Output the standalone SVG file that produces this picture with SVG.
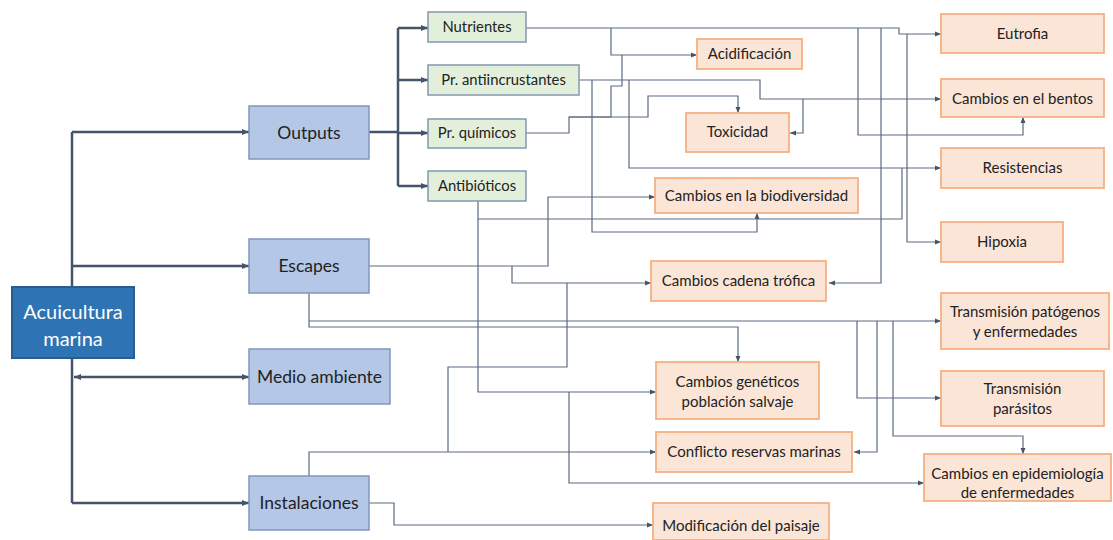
<svg xmlns="http://www.w3.org/2000/svg" width="1113" height="540" viewBox="0 0 1113 540">
<style>
text{font-family:Lato,"Liberation Sans",sans-serif;text-anchor:middle;fill:#222}
.main rect{fill:#2e74b5;stroke:#2a5c8e;stroke-width:2}
.main text{fill:#fff;font-size:20px}
.blue rect{fill:#b4c7e7;stroke:#7f96bd;stroke-width:1.5}
.blue text{font-size:17.5px}
.green rect{fill:#e2efda;stroke:#8497b0;stroke-width:1.5}
.green text{font-size:14.8px}
.orange rect{fill:#fbe5d6;stroke:#f4b183;stroke-width:1.8}
.orange text{font-size:15px}
.thick{fill:none;stroke:#44546a;stroke-width:2.5}
.thin{fill:none;stroke:#5b6b80;stroke-width:1.2}
</style>
<defs>
<marker id="a" markerUnits="userSpaceOnUse" markerWidth="8" markerHeight="7" refX="7" refY="3.5" orient="auto"><path d="M0,0.5 L7,3.5 L0,6.5 z" fill="#44546a"/></marker>
<marker id="as" markerUnits="userSpaceOnUse" markerWidth="8" markerHeight="7" refX="7" refY="3.5" orient="auto-start-reverse"><path d="M0,0.5 L7,3.5 L0,6.5 z" fill="#44546a"/></marker>
<marker id="t" markerUnits="userSpaceOnUse" markerWidth="7" markerHeight="6" refX="6" refY="3" orient="auto"><path d="M0,0.5 L6,3 L0,5.5 z" fill="#44546a"/></marker>
</defs>
<g id="connectors">
<path class="thick" d="M72,132 V503"/>
<path class="thick" d="M72,132 H249" marker-end="url(#a)"/>
<path class="thick" d="M72,266 H249" marker-end="url(#a)"/>
<path class="thick" d="M74,377 H249" marker-start="url(#as)" marker-end="url(#as)"/>
<path class="thick" d="M72,503 H249" marker-end="url(#a)"/>
<path class="thick" d="M369,132 H398"/>
<path class="thick" d="M398,28 V186"/>
<path class="thick" d="M398,28 H428" marker-end="url(#a)"/>
<path class="thick" d="M398,80 H428" marker-end="url(#a)"/>
<path class="thick" d="M398,133 H428" marker-end="url(#a)"/>
<path class="thick" d="M398,186 H428" marker-end="url(#a)"/>
<path class="thin" d="M526,28 H899 V34 H941" marker-end="url(#t)"/>
<path class="thin" d="M907,34 V242 H941" marker-end="url(#t)"/>
<path class="thin" d="M611,28 V55 H697" marker-end="url(#t)"/>
<path class="thin" d="M858,28 V135 H1023 V117" marker-end="url(#t)"/>
<path class="thin" d="M881,28 V283 H829" marker-end="url(#t)"/>
<path class="thin" d="M579,80 H760 V99 H941" marker-end="url(#t)"/>
<path class="thin" d="M803,99 V133 H790" marker-end="url(#t)"/>
<path class="thin" d="M592,80 V232 H757 V213" marker-end="url(#t)"/>
<path class="thin" d="M629,80 V168 H941" marker-end="url(#t)"/>
<path class="thin" d="M526,133 H569 V117 H648 V96 H738 V113" marker-end="url(#t)"/>
<path class="thin" d="M569,117 H611 V86 H622 V55"/>
<path class="thin" d="M478,201 V219 H902 V168"/>
<path class="thin" d="M478,219 V392 H656" marker-end="url(#t)"/>
<path class="thin" d="M569,392 V483 H924" marker-end="url(#t)"/>
<path class="thin" d="M369,266 H548 V197 H655" marker-end="url(#t)"/>
<path class="thin" d="M512,266 V283 H651" marker-end="url(#t)"/>
<path class="thin" d="M309,293 V327 H738 V362" marker-end="url(#t)"/>
<path class="thin" d="M309,321 H941" marker-end="url(#t)"/>
<path class="thin" d="M857,321 V398 H941" marker-end="url(#t)"/>
<path class="thin" d="M877,321 V452 H854" marker-end="url(#t)"/>
<path class="thin" d="M893,321 V436 H1023 V454" marker-end="url(#t)"/>
<path class="thin" d="M309,476 V452 H656" marker-end="url(#t)"/>
<path class="thin" d="M448,452 V367 H567 V283"/>
<path class="thin" d="M369,503 H394 V525 H653" marker-end="url(#t)"/>
</g>
<g id="acuicultura" class="main"><rect x="12" y="287" width="122" height="71"/><text x="73" y="319">Acuicultura</text><text x="73" y="346">marina</text></g>
<g id="outputs" class="blue"><rect x="249" y="106" width="120" height="53"/><text x="309" y="139">Outputs</text></g>
<g id="escapes" class="blue"><rect x="249" y="239" width="120" height="54"/><text x="309" y="272">Escapes</text></g>
<g id="medio" class="blue"><rect x="249" y="349" width="141" height="55"/><text x="319.5" y="383">Medio ambiente</text></g>
<g id="instalaciones" class="blue"><rect x="249" y="476" width="120" height="54"/><text x="309" y="509">Instalaciones</text></g>
<g id="nutrientes" class="green"><rect x="428" y="12" width="98" height="30"/><text x="477" y="32">Nutrientes</text></g>
<g id="antiincrustantes" class="green"><rect x="428" y="65" width="151" height="30"/><text x="503.5" y="85">Pr. antiincrustantes</text></g>
<g id="quimicos" class="green"><rect x="428" y="119" width="98" height="29"/><text x="477" y="138">Pr. químicos</text></g>
<g id="antibioticos" class="green"><rect x="428" y="171" width="98" height="30"/><text x="477" y="191">Antibióticos</text></g>
<g id="acidificacion" class="orange"><rect x="697" y="39" width="105" height="30"/><text x="749.5" y="59">Acidificación</text></g>
<g id="toxicidad" class="orange"><rect x="686" y="113" width="103" height="39"/><text x="737.5" y="137">Toxicidad</text></g>
<g id="biodiversidad" class="orange"><rect x="655" y="178" width="203" height="35"/><text x="756.5" y="201">Cambios en la biodiversidad</text></g>
<g id="cadena" class="orange"><rect x="651" y="261" width="175" height="40"/><text x="738.5" y="286">Cambios cadena trófica</text></g>
<g id="geneticos" class="orange"><rect x="656" y="362" width="163" height="57"/><text x="737.5" y="387">Cambios genéticos</text><text x="737.5" y="407">población salvaje</text></g>
<g id="conflicto" class="orange"><rect x="656" y="432" width="196" height="40"/><text x="754" y="457">Conflicto reservas  marinas</text></g>
<g id="paisaje" class="orange"><rect x="653" y="503" width="176" height="37"/><text x="741" y="531">Modificación del paisaje</text></g>
<g id="eutrofia" class="orange"><rect x="941" y="14" width="163" height="39"/><text x="1022.5" y="39">Eutrofia</text></g>
<g id="bentos" class="orange"><rect x="941" y="79" width="163" height="38"/><text x="1022.5" y="104">Cambios en el bentos</text></g>
<g id="resistencias" class="orange"><rect x="941" y="148" width="163" height="40"/><text x="1022.5" y="173">Resistencias</text></g>
<g id="hipoxia" class="orange"><rect x="941" y="222" width="122" height="40"/><text x="1002" y="247">Hipoxia</text></g>
<g id="patogenos" class="orange"><rect x="941" y="293" width="168" height="56"/><text x="1025" y="317">Transmisión patógenos</text><text x="1025" y="337">y enfermedades</text></g>
<g id="parasitos" class="orange"><rect x="941" y="371" width="163" height="55"/><text x="1022.5" y="394">Transmisión</text><text x="1022.5" y="414">parásitos</text></g>
<g id="epidemiologia" class="orange"><rect x="924" y="454" width="187" height="47"/><text x="1017.5" y="479">Cambios en epidemiología</text><text x="1017.5" y="498">de enfermedades</text></g>
</svg>
